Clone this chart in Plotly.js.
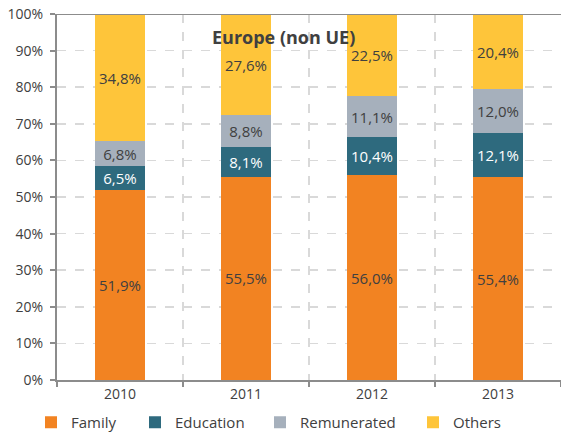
<!DOCTYPE html>
<html>
<head>
<meta charset="utf-8">
<script src="https://cdn.plot.ly/plotly-3.0.1.min.js"></script>
<style>html,body{margin:0;padding:0;background:#fff;}#chart{width:561px;height:439px;}</style>
</head>
<body>
<div id="chart"></div>
<script>
const years = ['2010', '2011', '2012', '2013'];
const family = [51.9, 55.5, 56.0, 55.4];
const education = [6.5, 8.1, 10.4, 12.1];
const remunerated = [6.8, 8.8, 11.1, 12.0];
const others = [34.8, 27.6, 22.5, 20.4];
const seriesNames = ['Family', 'Education', 'Remunerated', 'Others'];
const yTicks = [0, 10, 20, 30, 40, 50, 60, 70, 80, 90, 100];
const chartTitle = 'Europe (non UE)';

const colors = ['#F28322', '#2E6A7E', '#A6B0BC', '#FEC53A'];
const labelColors = ['#404040', '#ffffff', '#404040', '#404040'];
const FONT = '"Open Sans", sans-serif';
const seriesData = [family, education, remunerated, others];
const legendIds = ['legend', 'legend2', 'legend3', 'legend4'];
const legendTextPx = [71, 175, 300, 453];
const plotL = 57, plotW = 504;

const traces = seriesData.map((vals, i) => ({
  type: 'bar',
  name: seriesNames[i],
  x: years,
  y: vals,
  width: 0.4,
  marker: {color: colors[i], line: {width: 0}},
  texttemplate: '%{y:.1f}%',
  textposition: 'inside',
  insidetextanchor: 'middle',
  textangle: 0,
  textfont: {family: FONT, size: 15, color: labelColors[i]},
  legend: legendIds[i],
  hoverinfo: 'skip'
}));

const layout = {
  width: 561, height: 439,
  margin: {l: 57, r: 0, t: 14, b: 58},
  barmode: 'stack',
  separators: ',.',
  paper_bgcolor: '#ffffff',
  plot_bgcolor: '#ffffff',
  font: {family: FONT, size: 14, color: '#404040'},
  showlegend: true,
  uniformtext: {mode: 'show', minsize: 15},
  xaxis: {
    type: 'category',
    tickson: 'boundaries',
    ticks: 'outside', ticklen: 5, tickwidth: 2, tickcolor: '#8C8C8C',
    showline: true, linecolor: '#8C8C8C', linewidth: 2,
    showgrid: true, gridcolor: '#D9D9D9', griddash: 'dash', gridwidth: 1.5,
    tickfont: {family: FONT, size: 14, color: '#404040'},
    fixedrange: true
  },
  yaxis: {
    range: [0, 100],
    tickvals: yTicks,
    ticktext: yTicks.map(v => v + '%'),
    ticks: 'outside', ticklen: 5, tickwidth: 2, tickcolor: '#8C8C8C',
    showline: true, linecolor: '#8C8C8C', linewidth: 2,
    showgrid: true, gridcolor: '#D9D9D9', griddash: 'dash', gridwidth: 1.5,
    zeroline: false,
    ticklabelstandoff: 4,
    tickfont: {family: FONT, size: 14, color: '#404040'},
    fixedrange: true
  },
  shapes: [{
    type: 'line', xref: 'paper', yref: 'y', x0: 0, x1: 1, y0: 100, y1: 100,
    line: {color: '#8C8C8C', width: 2}, layer: 'above'
  }],
  annotations: [{
    text: '<b>' + chartTitle + '</b>', xref: 'paper', yref: 'paper',
    x: (283 - plotL) / plotW, y: (381 - 37) / 367, xanchor: 'center', yanchor: 'middle',
    showarrow: false, font: {family: FONT, size: 18, color: '#404040'}
  }]
};
legendIds.forEach((id, i) => {
  layout[id] = {
    orientation: 'h', x: (legendTextPx[i] - 40 - plotL) / plotW, xanchor: 'left',
    y: (381 - 424) / 367, yanchor: 'middle',
    font: {family: FONT, size: 15, color: '#404040'},
    bgcolor: 'rgba(0,0,0,0)', borderwidth: 0, itemwidth: 30
  };
});

Plotly.newPlot('chart', traces, layout, {displayModeBar: false, staticPlot: true});
</script>
</body>
</html>
